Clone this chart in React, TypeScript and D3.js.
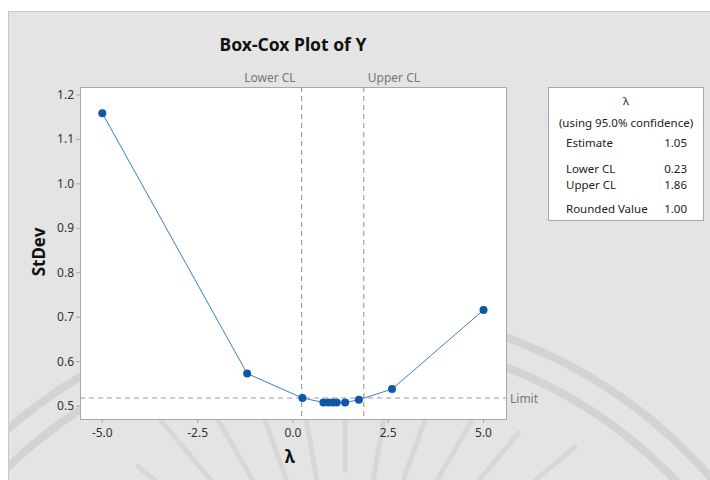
import React from "react";
import * as d3 from "d3";

const lambdas = [-5, -1.2, 0.25, 0.8, 0.93, 1.05, 1.15, 1.37, 1.73, 2.6, 5];
const stdevs = [1.159, 0.573, 0.518, 0.508, 0.508, 0.508, 0.508, 0.508, 0.514, 0.538, 0.716];
const xTicks = [-5, -2.5, 0, 2.5, 5];
const yTicks = [0.5, 0.6, 0.7, 0.8, 0.9, 1.0, 1.1, 1.2];
const lowerCL = 0.23;
const upperCL = 1.86;
const limitVal = 0.518;
const legendRows = [
  { label: "Estimate", value: "1.05" },
  { label: "Lower CL", value: "0.23" },
  { label: "Upper CL", value: "1.86" },
  { label: "Rounded Value", value: "1.00" },
];
const rayAngles = [200, 210, 220, 230, 240, 250, 260, 270, 280, 290, 300, 310, 320, 330, 340];

const FONT = "'Noto Sans', 'Open Sans', sans-serif";

export default function App() {
  const W = 710, H = 480;
  const pl = 80, pr = 506, pt = 87, pb = 419;
  const x = d3.scaleLinear().domain([-5.585, 5.59]).range([pl, pr]);
  const y = d3.scaleLinear().domain([0.4707, 1.218]).range([pb, pt]);
  const pts = lambdas.map((l, i) => [l, stdevs[i]] as [number, number]);
  const line = d3.line<[number, number]>().x(d => x(d[0])).y(d => y(d[1]));

  const arc = (r: number) => {
    const p = d3.path();
    p.arc(335, 806, r, Math.PI * 1.0, Math.PI * 2.0);
    return p.toString();
  };
  const cx = 345, cy = 640;
  const legendYs = [147, 173, 189, 213];

  return (
    <svg width={W} height={H} style={{ position: "absolute", left: 0, top: 0, background: "#fff" }} fontFamily={FONT}>
      <defs>
        <clipPath id="panel">
          <rect x={8.5} y={11.5} width={W} height={H} />
        </clipPath>
      </defs>
      <rect x={0} y={0} width={W} height={H} fill="#fff" />
      <rect x={8.5} y={11.5} width={W} height={H} fill="#e4e4e4" stroke="#c6c6c6" />
      <g clipPath="url(#panel)">
        <path d={arc(499)} fill="none" stroke="#d3d3d3" strokeWidth={8} />
        <path d={arc(471)} fill="none" stroke="#d3d3d3" strokeWidth={8} />
        {rayAngles.map((a, i) => {
          const rad = (a * Math.PI) / 180;
          const r1 = 150 + (i % 2) * 20, r2 = 300 - (i % 3) * 15;
          return (
            <line key={i} x1={cx + r1 * Math.cos(rad)} y1={cy + r1 * Math.sin(rad)}
              x2={cx + r2 * Math.cos(rad)} y2={cy + r2 * Math.sin(rad)}
              stroke="#d7d7d7" strokeWidth={5} strokeLinecap="round" />
          );
        })}
      </g>

      <text x={293} y={51} textAnchor="middle" fontWeight="bold" fontSize={17.5} fill="#111">Box-Cox Plot of Y</text>

      <rect x={pl + 0.5} y={pt + 0.5} width={pr - pl} height={pb - pt} fill="#fff" stroke="#a8a8a8" />

      {/* CL lines */}
      <line x1={x(lowerCL)} x2={x(lowerCL)} y1={pt} y2={pb} stroke="#8c8c8c" strokeDasharray="5,4" />
      <line x1={x(upperCL)} x2={x(upperCL)} y1={pt} y2={pb} stroke="#8c8c8c" strokeDasharray="5,4" />
      <line x1={pl} x2={pr} y1={y(limitVal)} y2={y(limitVal)} stroke="#9a9a9a" strokeDasharray="5,4" />
      <text x={x(lowerCL) - 6} y={82} textAnchor="end" fontSize={12} fill="#777">Lower CL</text>
      <text x={x(upperCL) + 4} y={82} textAnchor="start" fontSize={12} fill="#777">Upper CL</text>
      <text x={510} y={y(limitVal) + 5} fontSize={12} fill="#707a85">Limit</text>

      {/* axes */}
      {yTicks.map(t => (
        <g key={t}>
          <line x1={pl - 4} x2={pl} y1={y(t)} y2={y(t)} stroke="#a8a8a8" />
          <text x={pl - 6} y={y(t) + 4} textAnchor="end" fontSize={12} fill="#333">{t.toFixed(1)}</text>
        </g>
      ))}
      {xTicks.map(t => (
        <g key={t}>
          <line x1={x(t)} x2={x(t)} y1={pb} y2={pb + 4} stroke="#a8a8a8" />
          <text x={x(t)} y={pb + 18} textAnchor="middle" fontSize={12} fill="#333">{t.toFixed(1)}</text>
        </g>
      ))}
      <text x={290} y={463} textAnchor="middle" fontWeight="bold" fontSize={17} fill="#111">λ</text>
      <text transform={`translate(45,252) rotate(-90)`} textAnchor="middle" fontWeight="bold" fontSize={17} fill="#111">StDev</text>

      {/* data */}
      <path d={line(pts) || ""} fill="none" stroke="#3f7fc4" strokeWidth={1} />
      {pts.map((p, i) => (
        <circle key={i} cx={x(p[0])} cy={y(p[1])} r={4} fill="#0f58a8" />
      ))}

      {/* legend */}
      <rect x={548.5} y={87.5} width={155} height={133} fill="#fff" stroke="#a8a8a8" />
      <text x={626} y={105} textAnchor="middle" fontSize={11.5} fill="#222">λ</text>
      <text x={626} y={127} textAnchor="middle" fontSize={11.5} fill="#222">(using 95.0% confidence)</text>
      {legendRows.map((r, i) => (
        <g key={r.label}>
          <text x={566} y={legendYs[i]} fontSize={11.5} fill="#222">{r.label}</text>
          <text x={687} y={legendYs[i]} textAnchor="end" fontSize={11.5} fill="#222">{r.value}</text>
        </g>
      ))}
    </svg>
  );
}
